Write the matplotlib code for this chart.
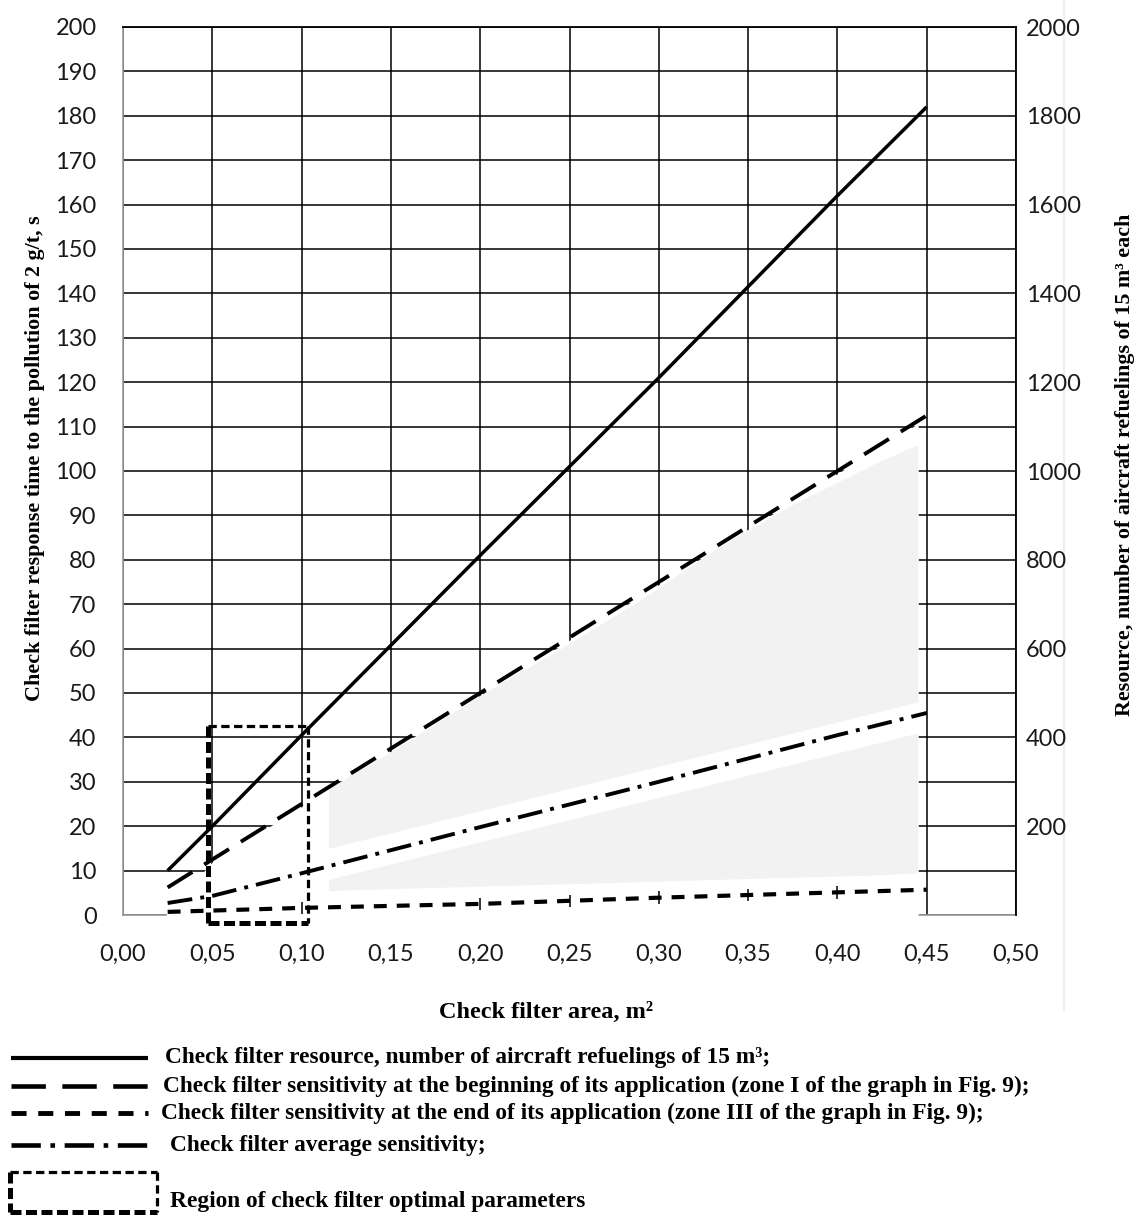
import numpy as np
import matplotlib.pyplot as plt
from matplotlib.patches import Polygon

# ---- data ----
area = [0.025, 0.05, 0.10, 0.20, 0.30, 0.40, 0.45]
resource = [100, 200, 405, 810, 1210, 1620, 1820]        # refuelings (right axis)
sens_begin = [6.2, 12.5, 25, 50, 75, 100, 112.5]         # s (left axis)
sens_end = [0.7, 1.0, 1.6, 2.5, 3.9, 5.1, 5.7]
sens_avg = [2.7, 4.3, 9.4, 19.8, 30, 40.5, 45.5]

# optimal region (area range, time range)
opt_area = [0.0476, 0.1036]
opt_time = [-1.8, 42.6]

# light grey zone split around the average-sensitivity curve
shade_x = [0.115, 0.155, 0.20, 0.245, 0.29, 0.33, 0.375, 0.42, 0.445]
shade_top = [28.5, 38, 49.5, 60, 71, 82, 92.5, 101.5, 106]
shade_mid_hi = [15, 19, 23.5, 28, 32.5, 36.5, 41, 45.5, 48]
shade_mid_lo = [8, 12, 16.5, 21, 25.5, 29.5, 34, 38.5, 41]
shade_bot = [5.5, 6, 6.5, 7, 7.5, 8, 8.5, 9, 9.5]

xticks = [0.0, 0.05, 0.10, 0.15, 0.20, 0.25, 0.30, 0.35, 0.40, 0.45, 0.50]
xtick_labels = ['0,00', '0,05', '0,10', '0,15', '0,20', '0,25', '0,30',
                '0,35', '0,40', '0,45', '0,50']
yticks_left = list(range(0, 201, 10))
yticks_right = list(range(200, 2001, 200))

legend_labels = [
    'Check filter resource, number of aircraft refuelings of 15 m³;',
    'Check filter sensitivity at the beginning of its application (zone I of the graph in Fig. 9);',
    'Check filter sensitivity at the end of its application (zone III of the graph in Fig. 9);',
    'Check filter average sensitivity;',
    'Region of check filter optimal parameters',
]

# ---- styles ----
TICKFONT = 'Lato'
SERIF = 'Liberation Serif'
st_solid = dict(color='black', lw=2.5, solid_capstyle='butt')
st_long = dict(color='black', lw=2.8, dashes=(7.5, 3.6))
st_short = dict(color='black', lw=3.0, dashes=(3.1, 2.4))
st_dashdot = dict(color='black', lw=2.8, dashes=(6.4, 2.1, 1.0, 2.1))

fig = plt.figure(figsize=(11.4, 12.16), dpi=100)
W, H = 1140, 1216
ax = fig.add_axes([123 / W, 1 - 915 / H, 893 / W, 888 / H])
ax.set_xlim(0, 0.5)
ax.set_ylim(0, 200)
ax.set_axisbelow(True)
ax.grid(True, color='black', lw=1.1)
ax.set_xticks(xticks)
ax.set_xticklabels(xtick_labels)
ax.set_yticks(yticks_left)
ax.tick_params(axis='both', length=0, labelsize=17, labelcolor='#1a1a1a')
ax.tick_params(axis='y', pad=19)
ax.tick_params(axis='x', pad=21)
for lab in ax.get_xticklabels() + ax.get_yticklabels():
    lab.set_fontfamily(TICKFONT)
for side in ['top', 'right']:
    ax.spines[side].set_color('black')
    ax.spines[side].set_linewidth(1.3)
for side in ['left', 'bottom']:
    ax.spines[side].set_color('#9a9a9a')
    ax.spines[side].set_linewidth(1.2)
ax.spines['bottom'].set_zorder(0.6)

# white area under the "beginning" curve hides the grid
mask_top = [v - 0.8 for v in sens_begin]
mask_x = [0.0, 0.0245] + area[1:-1] + [0.4455, 0.4455, 0.0245, 0.0245]
mask_y = [0.3, 0.3] + mask_top[1:-1] + [float(np.interp(0.4455, area, mask_top)), -1.5, -1.5, 0.3]
ax.add_patch(Polygon(np.column_stack([mask_x, mask_y]), closed=True,
                     facecolor='white', edgecolor='none', zorder=1, clip_on=False))

# grey zone
ax.fill_between(shade_x, shade_mid_hi, shade_top, color='#f2f2f2', lw=0, zorder=1.2)
ax.fill_between(shade_x, shade_bot, shade_mid_lo, color='#f2f2f2', lw=0, zorder=1.2)

# remnants of vertical grid crossing the lower curve
stub_x = [0.10, 0.20, 0.25, 0.30, 0.35, 0.40]
stub_y = np.interp(stub_x, area, sens_end)
ax.vlines(stub_x, stub_y - 1.4, stub_y + 1.4, color='black', lw=1.1, zorder=2)

ax.plot(area, sens_begin, zorder=3, **st_long)
ax.plot(area, sens_end, zorder=3, **st_short)
ax.plot(area, sens_avg, zorder=3, **st_dashdot)

# optimal region box
x0, x1 = opt_area
y0, y1 = opt_time
box_thin = dict(color='black', lw=2.3, dashes=(2.6, 1.4), zorder=4, clip_on=False)
box_thick = dict(color='black', lw=3.6, dashes=(2.2, 0.9), zorder=4, clip_on=False)
ax.plot([x0, x1], [y1, y1], **box_thin)
ax.plot([x1, x1], [y1, y0], **box_thin)
ax.plot([x0, x0], [y0, y1], **box_thick)
ax.plot([x0, x1], [y0, y0], **box_thick)

# right axis: resource
ax2 = ax.twinx()
ax2.set_ylim(0, 2000)
ax2.set_yticks(yticks_right)
ax2.tick_params(axis='y', length=0, labelsize=17, pad=7, labelcolor='#1a1a1a')
for lab in ax2.get_yticklabels():
    lab.set_fontfamily(TICKFONT)
for s in ax2.spines.values():
    s.set_visible(False)
ax2.plot(area, resource, zorder=3, **st_solid)

# axis titles
fig.text(546 / W, 1 - 1012 / H, 'Check filter area, m²', ha='center', va='center',
         fontsize=17.5, fontweight='bold', family=SERIF)
fig.text(35 / W, 1 - 458 / H, 'Check filter response time to the pollution of 2 g/t, s',
         rotation=90, ha='center', va='center', fontsize=15.8, fontweight='bold', family=SERIF)
fig.text(1125 / W, 1 - 465 / H, 'Resource, number of aircraft refuelings of 15 m³ each',
         rotation=90, ha='center', va='center', fontsize=15.8, fontweight='bold', family=SERIF)

# legend drawn in pixel coordinates of the figure, kept behind the chart
lax = fig.add_axes([0, 0, 1, 1])
lax.set_zorder(-1)
lax.set_xlim(0, W)
lax.set_ylim(H, 0)
lax.axis('off')
lax.plot([1064, 1064], [0, 1010], color='#efefef', lw=1.5)

rows = [1058, 1086, 1113, 1145]
styles = [st_solid, st_long, st_short, st_dashdot]
text_x = [165, 163, 161, 170]
for yy, st, tx, lab in zip(rows, styles, text_x, legend_labels[:4]):
    lax.plot([11, 148], [yy, yy], **{**st, 'lw': st['lw'] + 0.5})
    lax.text(tx, yy, lab, ha='left', va='center', fontsize=16.8,
             fontweight='bold', family=SERIF)

bx0, bx1, by0, by1 = 10, 157, 1172, 1212
lax.plot([bx0, bx1], [by0, by0], **{**box_thin, 'zorder': 2})
lax.plot([bx1, bx1], [by0, by1], **{**box_thin, 'zorder': 2})
lax.plot([bx0, bx0], [by0, by1], **{**box_thick, 'zorder': 2})
lax.plot([bx0, bx1], [by1, by1], **{**box_thick, 'zorder': 2})
lax.text(170, 1202, legend_labels[4], ha='left', va='center', fontsize=16.8,
         fontweight='bold', family=SERIF)

fig.savefig('out.png', dpi=100)
